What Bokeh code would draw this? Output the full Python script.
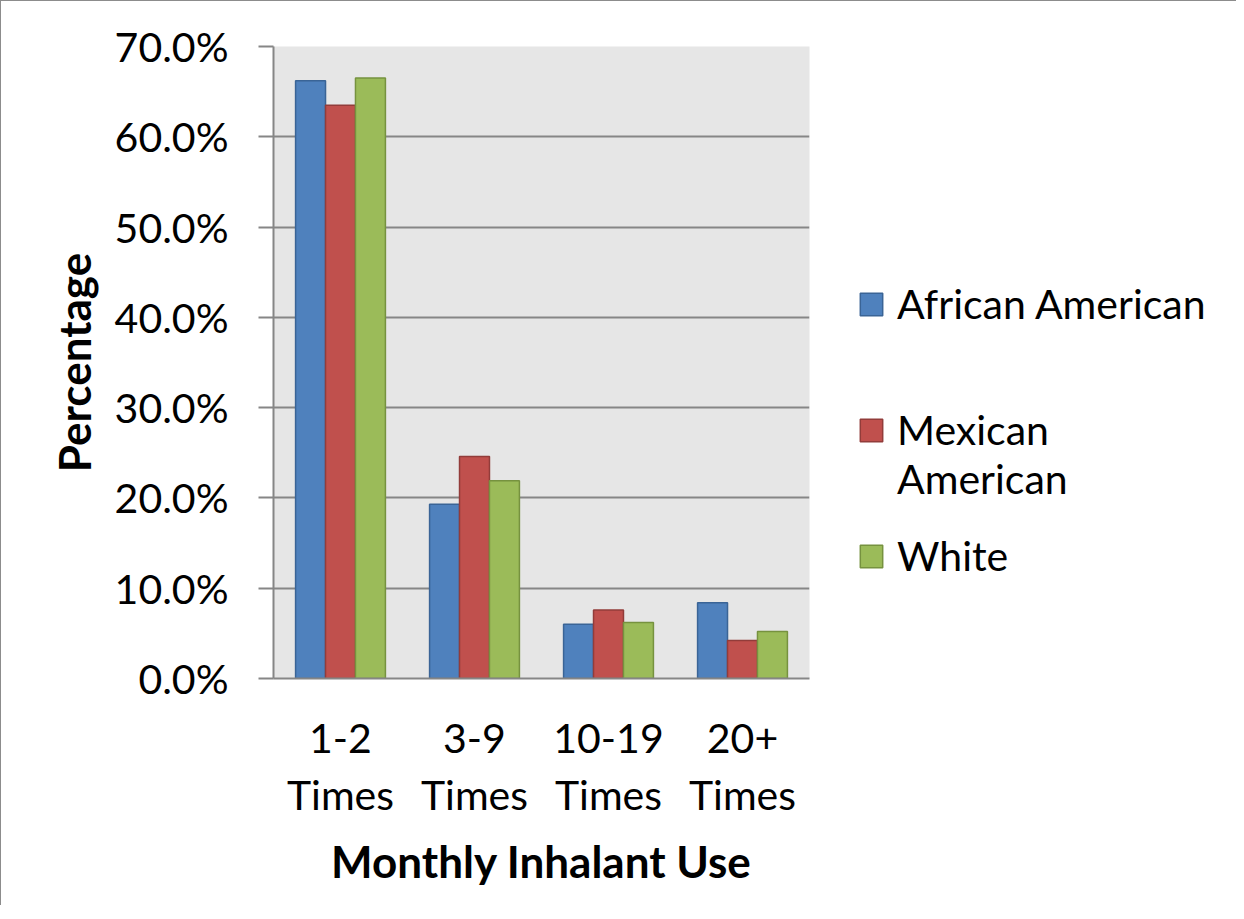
from bokeh.plotting import figure
from bokeh.layouts import row
from bokeh.models import (ColumnDataSource, FactorRange, Range1d, NumeralTickFormatter,
                          FixedTicker, Legend, LegendItem)
from bokeh.transform import dodge
from bokeh.embed import file_html
from bokeh.resources import INLINE

# ---- data ----
categories = ["1-2\nTimes", "3-9\nTimes", "10-19\nTimes", "20+\nTimes"]
series_names = ["African American", "\nMexican\nAmerican", "White"]
african_american = [0.662, 0.193, 0.060, 0.084]
mexican_american = [0.635, 0.246, 0.076, 0.042]
white = [0.665, 0.219, 0.062, 0.052]
y_ticks = [0.0, 0.1, 0.2, 0.3, 0.4, 0.5, 0.6, 0.7]

fills = ["#4f81bd", "#c0504d", "#9bbb59"]
lines = ["#3a6496", "#923c3a", "#76923f"]

FONT = "Lato"
H = 905

src = ColumnDataSource(dict(cat=categories, aa=african_american, ma=mexican_american, wh=white))

p = figure(x_range=FactorRange(*categories), y_range=Range1d(0, 0.7),
           width=818, height=H, output_backend="svg", toolbar_location=None,
           min_border_left=272, min_border_right=10, min_border_top=45, min_border_bottom=228)
p.styles = {"border-left": "1px solid #8c8c8c", "border-top": "1px solid #8c8c8c"}

p.background_fill_color = "#e6e6e6"
p.border_fill_color = "white"
p.outline_line_color = None

bw = 0.2235
renderers = []
for col, off, fc, lc in zip(["aa", "ma", "wh"], [-bw, 0, bw], fills, lines):
    r = p.vbar(x=dodge("cat", off, range=p.x_range), top=col, width=bw, bottom=0,
               source=src, fill_color=fc, line_color=lc, line_width=1.5)
    renderers.append(r)

# y axis
p.yaxis.ticker = FixedTicker(ticks=y_ticks)
p.yaxis.formatter = NumeralTickFormatter(format="0.0%")
p.yaxis.axis_line_color = "#868686"
p.yaxis.axis_line_width = 2
p.yaxis.major_tick_line_color = "#868686"
p.yaxis.major_tick_line_width = 2
p.yaxis.major_tick_out = 15
p.yaxis.major_tick_in = 0
p.yaxis.minor_tick_line_color = None
p.yaxis.major_label_text_font = FONT
p.yaxis.major_label_text_font_size = "41px"
p.yaxis.major_label_text_color = "black"
p.yaxis.major_label_standoff = 30
p.yaxis.axis_label = "Percentage"
p.yaxis.axis_label_text_font = FONT
p.yaxis.axis_label_text_font_style = "bold"
p.yaxis.axis_label_text_font_size = "44px"
p.yaxis.axis_label_text_color = "black"
p.yaxis.axis_label_standoff = 12

# x axis
p.xaxis.axis_line_color = "#868686"
p.xaxis.axis_line_width = 2
p.xaxis.major_tick_line_color = None
p.xaxis.minor_tick_line_color = None
p.xaxis.major_label_text_font = FONT
p.xaxis.major_label_text_font_size = "41px"
p.xaxis.major_label_text_color = "black"
p.xaxis.major_label_text_line_height = 1.17
p.xaxis.major_label_standoff = 28
p.xaxis.axis_label = "Monthly Inhalant Use"
p.xaxis.axis_label_text_font = FONT
p.xaxis.axis_label_text_font_style = "bold"
p.xaxis.axis_label_text_font_size = "44px"
p.xaxis.axis_label_text_color = "black"
p.xaxis.axis_label_standoff = 13

p.xgrid.grid_line_color = None
p.ygrid.grid_line_color = "#868686"
p.ygrid.grid_line_width = 2

# legend panel (separate figure to the right of the chart)
q = figure(width=418, height=H, x_range=Range1d(0, 1), y_range=Range1d(0, 1),
           output_backend="svg", toolbar_location=None,
           min_border_left=0, min_border_right=0, min_border_top=0, min_border_bottom=0)
q.styles = {"border-top": "1px solid #8c8c8c"}
q.axis.visible = False
q.grid.visible = False
q.outline_line_color = None
q.background_fill_color = "white"
q.border_fill_color = "white"

# hidden key renderers (same series data, not shown) that give the legend its swatches
key_renderers = []
for col, fc, lc in zip(["aa", "ma", "wh"], fills, lines):
    kr = q.vbar(x=col, top=col, width=0.01, source=src, fill_color=fc, line_color=lc,
                line_width=1.5, visible=False)
    key_renderers.append(kr)

legend = Legend(items=[LegendItem(label=n, renderers=[r]) for n, r in zip(series_names, key_renderers)],
                location=(39, 98), padding=0, margin=0, spacing=28,
                border_line_color=None, background_fill_alpha=0,
                inactive_fill_alpha=0, click_policy="none",
                glyph_width=28, glyph_height=28, label_height=20,
                label_standoff=12, label_text_font=FONT, label_text_font_size="41px",
                label_text_color="black", label_text_line_height=1.4)
q.add_layout(legend, "center")

layout = row(p, q)
open("out.html", "w").write(file_html(layout, INLINE))
